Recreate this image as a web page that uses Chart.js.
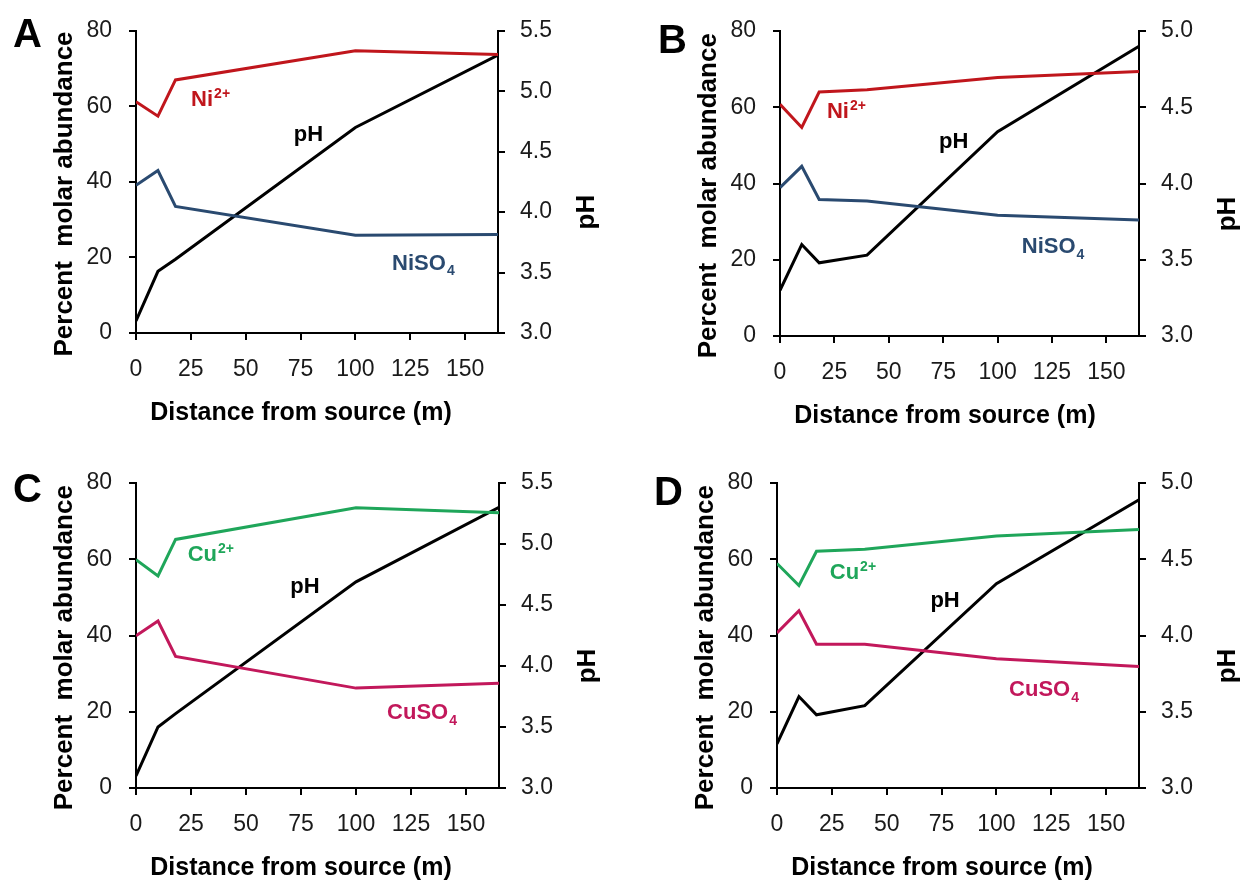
<!DOCTYPE html>
<html>
<head>
<meta charset="utf-8">
<title>Ni and Cu speciation vs distance from source</title>
<script src="https://cdn.jsdelivr.net/npm/chart.js@4.4.1/dist/chart.umd.min.js"></script>
<style>
  body { margin: 0; background: #fff; }
  #wrap { position: relative; width: 1245px; height: 881px; overflow: hidden; }
  canvas { position: absolute; }
</style>
</head>
<body>
<div id="wrap">
  <canvas id="panelA" width="622" height="440" style="left:0;top:0"></canvas>
  <canvas id="panelB" width="623" height="440" style="left:622px;top:0"></canvas>
  <canvas id="panelC" width="622" height="441" style="left:0;top:440px"></canvas>
  <canvas id="panelD" width="623" height="441" style="left:622px;top:440px"></canvas>
</div>
<script>
// Distance from source (m) and percent molar abundance / pH

// Panel A - Ni
const distA = [0, 10, 18, 100, 165];
const ni2A = [61.2, 57.4, 67.0, 74.7, 73.7];
const niso4A = [39.1, 43.0, 33.5, 25.9, 26.1];
const phA = [3.10, 3.51, 3.61, 4.70, 5.30];

// Panel B - Ni
const distB = [0, 10, 18, 40, 100, 165];
const ni2B = [60.8, 54.7, 64.0, 64.6, 67.8, 69.4];
const niso4B = [38.9, 44.5, 35.8, 35.4, 31.7, 30.4];
const phB = [3.30, 3.60, 3.48, 3.53, 4.34, 4.90];

// Panel C - Cu
const distC = [0, 10, 18, 100, 165];
const cu2C = [59.9, 55.6, 65.2, 73.5, 72.2];
const cuso4C = [39.9, 43.8, 34.5, 26.2, 27.5];
const phC = [3.10, 3.50, 3.61, 4.69, 5.30];

// Panel D - Cu
const distD = [0, 10, 18, 40, 100, 165];
const cu2D = [58.9, 53.1, 62.1, 62.6, 66.1, 67.8];
const cuso4D = [40.7, 46.5, 37.7, 37.7, 33.9, 31.9];
const phD = [3.29, 3.60, 3.48, 3.54, 4.34, 4.89];

// Axis tick settings
const distTicks = { min: 0, max: 165, step: 25 };
const abundTicks = { min: 0, max: 80, step: 20 };
const phStep = 0.5;

const FONT = '"Liberation Sans", Arial, sans-serif';
const RED = '#c0161c';
const NAVY = '#2a4a70';
const GREEN = '#1fa65a';
const MAGENTA = '#c2185b';

const pts = (xs, ys) => xs.map((x, i) => ({ x: x, y: ys[i] }));

// Draws panel letter, axis titles and the in-plot series labels
const decorations = {
    id: 'decorations',
    afterDraw(chart, args, o) {
        const ctx = chart.ctx;
        const a = chart.chartArea;
        const h = a.bottom - a.top;

        ctx.save();
        ctx.fillStyle = '#000';

        // panel letter
        ctx.font = `bold 40px ${FONT}`;
        ctx.textAlign = 'left';
        ctx.textBaseline = 'alphabetic';
        ctx.fillText(o.letter, o.letterX, o.letterY);

        // x title
        ctx.textAlign = 'center';
        ctx.textBaseline = 'middle';
        ctx.font = `bold 25px ${FONT}`;
        ctx.fillText('Distance from source (m)', a.left + 165, a.bottom + 80);

        // left title
        ctx.save();
        ctx.font = `bold 26px ${FONT}`;
        ctx.translate(a.left - 71, a.top + 0.54 * h);
        ctx.rotate(-Math.PI / 2);
        ctx.fillText('Percent  molar abundance', 0, 0);
        ctx.restore();

        // right title
        ctx.save();
        ctx.font = `bold 26px ${FONT}`;
        ctx.translate(a.right + 89, a.top + 0.6 * h);
        ctx.rotate(-Math.PI / 2);
        ctx.fillText('pH', 0, 0);
        ctx.restore();

        // series labels, anchored in data units
        const xs = chart.scales.x;
        const ys = chart.scales.y;
        o.labels.forEach(l => {
            const px = xs.getPixelForValue(l.x);
            const py = ys.getPixelForValue(l.y);
            const mainFont = `bold 22px ${FONT}`;
            const smallFont = `bold 14px ${FONT}`;
            ctx.font = mainFont;
            const w1 = ctx.measureText(l.text).width;
            ctx.font = smallFont;
            const w2 = l.small ? ctx.measureText(l.small).width + 1 : 0;
            const x0 = px - (w1 + w2) / 2;
            ctx.fillStyle = l.color;
            ctx.textAlign = 'left';
            ctx.textBaseline = 'middle';
            ctx.font = mainFont;
            ctx.fillText(l.text, x0, py);
            if (l.small) {
                ctx.font = smallFont;
                ctx.fillText(l.small, x0 + w1 + 1, py + (l.sup ? -6 : 8));
            }
        });

        ctx.restore();
    }
};

function makePanel(id, p) {
    const ctx = document.getElementById(id).getContext('2d');
    return new Chart(ctx, {
        type: 'line',
        data: {
            datasets: [
                { label: p.ionName, data: pts(p.dist, p.ion), borderColor: p.ionColor, yAxisID: 'y' },
                { label: p.sulfName, data: pts(p.dist, p.sulf), borderColor: p.sulfColor, yAxisID: 'y' },
                { label: 'pH', data: pts(p.dist, p.ph), borderColor: '#000', yAxisID: 'y1' }
            ]
        },
        options: {
            responsive: false,
            animation: false,
            devicePixelRatio: 1,
            layout: { padding: { top: p.padTop, left: 0, right: 0, bottom: 0 } },
            elements: {
                line: { borderWidth: 3, tension: 0, fill: false },
                point: { radius: 0, hoverRadius: 0 }
            },
            plugins: {
                legend: { display: false },
                tooltip: { enabled: false },
                decorations: {
                    letter: p.letter,
                    letterX: p.letterX,
                    letterY: p.letterY,
                    labels: p.labels
                }
            },
            scales: {
                x: {
                    type: 'linear',
                    min: distTicks.min,
                    max: distTicks.max,
                    afterFit: s => { s.height = p.xh; },
                    border: { display: true, color: '#000', width: 2 },
                    grid: { drawOnChartArea: false, color: '#000', lineWidth: 2, tickLength: 7 },
                    ticks: {
                        stepSize: distTicks.step,
                        includeBounds: false,
                        color: '#1a1a1a',
                        padding: 16,
                        maxRotation: 0,
                        font: { family: FONT, size: 23 }
                    }
                },
                y: {
                    position: 'left',
                    min: abundTicks.min,
                    max: abundTicks.max,
                    afterFit: s => { s.width = p.wl; },
                    border: { display: true, color: '#000', width: 2 },
                    grid: { drawOnChartArea: false, color: '#000', lineWidth: 2, tickLength: 7 },
                    ticks: {
                        stepSize: abundTicks.step,
                        color: '#1a1a1a',
                        padding: 17,
                        font: { family: FONT, size: 23 }
                    }
                },
                y1: {
                    position: 'right',
                    min: 3.0,
                    max: p.phMax,
                    afterFit: s => { s.width = p.wr; },
                    border: { display: true, color: '#000', width: 2 },
                    grid: { drawOnChartArea: false, color: '#000', lineWidth: 2, tickLength: 7 },
                    ticks: {
                        stepSize: phStep,
                        color: '#1a1a1a',
                        padding: 15,
                        font: { family: FONT, size: 23 },
                        callback: v => v.toFixed(1)
                    }
                }
            }
        },
        plugins: [decorations]
    });
}

makePanel('panelA', {
    letter: 'A', letterX: 13, letterY: 47,
    dist: distA, ion: ni2A, sulf: niso4A, ph: phA, phMax: 5.5,
    ionName: 'Ni2+', ionColor: RED, sulfName: 'NiSO4', sulfColor: NAVY,
    wl: 136, wr: 124, padTop: 24, xh: 107,
    labels: [
        { text: 'Ni', small: '2+', sup: true, x: 34, y: 61.6, color: RED },
        { text: 'pH', x: 78.6, y: 52.3, color: '#000' },
        { text: 'NiSO', small: '4', sup: false, x: 131, y: 18.4, color: NAVY }
    ]
});

makePanel('panelB', {
    letter: 'B', letterX: 36, letterY: 53,
    dist: distB, ion: ni2B, sulf: niso4B, ph: phB, phMax: 5.0,
    ionName: 'Ni2+', ionColor: RED, sulfName: 'NiSO4', sulfColor: NAVY,
    wl: 158, wr: 106, padTop: 31, xh: 104,
    labels: [
        { text: 'Ni', small: '2+', sup: true, x: 30.5, y: 58.8, color: RED },
        { text: 'pH', x: 79.8, y: 50.9, color: '#000' },
        { text: 'NiSO', small: '4', sup: false, x: 125.5, y: 23.3, color: NAVY }
    ]
});

makePanel('panelC', {
    letter: 'C', letterX: 13, letterY: 62,
    dist: distC, ion: cu2C, sulf: cuso4C, ph: phC, phMax: 5.5,
    ionName: 'Cu2+', ionColor: GREEN, sulfName: 'CuSO4', sulfColor: MAGENTA,
    wl: 136, wr: 123, padTop: 43, xh: 93,
    labels: [
        { text: 'Cu', small: '2+', sup: true, x: 34, y: 61.1, color: GREEN },
        { text: 'pH', x: 76.8, y: 52.7, color: '#000' },
        { text: 'CuSO', small: '4', sup: false, x: 130, y: 19.7, color: MAGENTA }
    ]
});

makePanel('panelD', {
    letter: 'D', letterX: 32, letterY: 65,
    dist: distD, ion: cu2D, sulf: cuso4D, ph: phD, phMax: 5.0,
    ionName: 'Cu2+', ionColor: GREEN, sulfName: 'CuSO4', sulfColor: MAGENTA,
    wl: 155, wr: 106, padTop: 43, xh: 93,
    labels: [
        { text: 'Cu', small: '2+', sup: true, x: 34.6, y: 56.4, color: GREEN },
        { text: 'pH', x: 76.6, y: 49, color: '#000' },
        { text: 'CuSO', small: '4', sup: false, x: 121.7, y: 25.7, color: MAGENTA }
    ]
});
</script>
</body>
</html>
